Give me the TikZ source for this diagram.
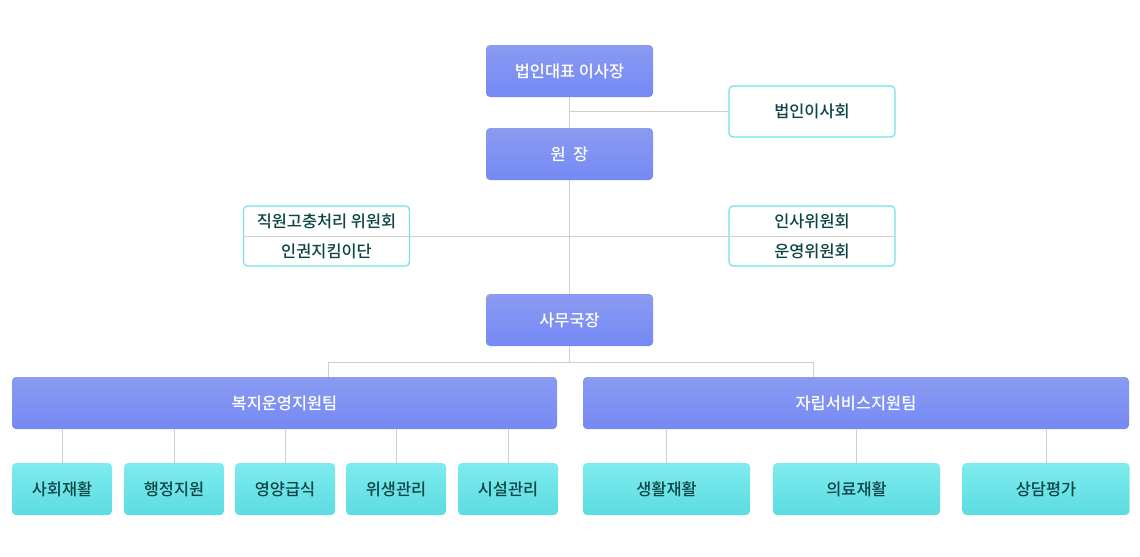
\documentclass[tikz,border=0pt]{standalone}
\usepackage{fontspec}
\setmainfont{Noto Sans CJK KR Medium}
\usetikzlibrary{positioning}
\definecolor{BlueTop}{HTML}{8A9BF1}
\definecolor{BlueBot}{HTML}{7589F5}
\definecolor{CyanTop}{HTML}{7FEBEE}
\definecolor{CyanBot}{HTML}{5BDCE1}
\definecolor{Ink}{HTML}{0D4444}
\definecolor{Rim}{HTML}{6FE2E9}
\definecolor{Wire}{HTML}{CFCFCF}

\begin{document}
\begin{tikzpicture}[x=.75pt,y=-.75pt,
 head/.style={rounded corners=3pt,top color=BlueTop,bottom color=BlueBot,text=white,
  minimum width=125.25pt,minimum height=39pt,inner sep=0pt,font=\fontsize{12.3}{14}\selectfont},
 team/.style={head,minimum width=408.75pt},
 unit/.style={rounded corners=3pt,top color=CyanTop,bottom color=CyanBot,text=Ink,
  minimum height=39pt,inner sep=0pt,font=\fontsize{12.3}{14}\selectfont},
 board/.style={draw=Rim,line width=.9pt,fill=white,rounded corners=3pt,minimum width=124.5pt,inner sep=0pt},
 label/.style={text=Ink,inner sep=0pt,font=\fontsize{12.3}{14}\selectfont},
 wire/.style={draw=Wire,line width=.75pt}]
\useasboundingbox(0,0)rectangle(1140,557);
% top of the chart
\node[head](ceo)at(569.5,71){법인대표 이사장};
\node[head](dir)at(569.5,154){원\hspace{.45em}장};
\node[board,minimum height=38.25pt,label](brd)at(812,111.5){법인이사회};
\draw[wire](ceo.south)--(dir.north);
\draw[wire](brd.west)--(brd.west-|ceo.south);
% committees
\node[board,minimum height=45pt](cmL)at(326.5,236){};
\node[board,minimum height=45pt](cmR)at(812,236){};
\node[label](cmLa)at(326.5,221){직원고충처리 위원회};
\node[label](cmLb)at(326.5,251){인권지킴이단};
\node[label](cmRa)at(812,221){인사위원회};
\node[label](cmRb)at(812,251){운영위원회};
\node[head](sec)at(569.5,320){사무국장};
\draw[wire](dir.south)--(sec.north);
\draw[wire](cmL.west)--(cmR.east);
% teams
\node[team](tm1)at(284.5,403){복지운영지원팀};
\node[team,minimum width=409.5pt](tm2)at(856,403){자립서비스지원팀};
\coordinate(bl)at(328,362);
\coordinate(br)at(813,362);
\draw[wire](sec.south)--(sec.south|-bl);
\draw[wire](bl)--(br);
\draw[wire](bl)--(bl|-tm1.north);
\draw[wire](br)--(br|-tm2.north);
% units
\foreach \x/\t [count=\i] in {62/사회재활,174/행정지원,285/영양급식,396/위생관리,508/시설관리}{
\node[unit,minimum width=75pt](wf\i)at(\x,489){\t};
\draw[wire](wf\i.north)--(wf\i.north|-tm1.south);}
\foreach \x/\t [count=\i] in {666.5/생활재활,856.5/의료재활,1046/상담평가}{
\node[unit,minimum width=125.25pt](il\i)at(\x,489){\t};
\draw[wire](il\i.north)--(il\i.north|-tm2.south);}
\end{tikzpicture}
\end{document}
